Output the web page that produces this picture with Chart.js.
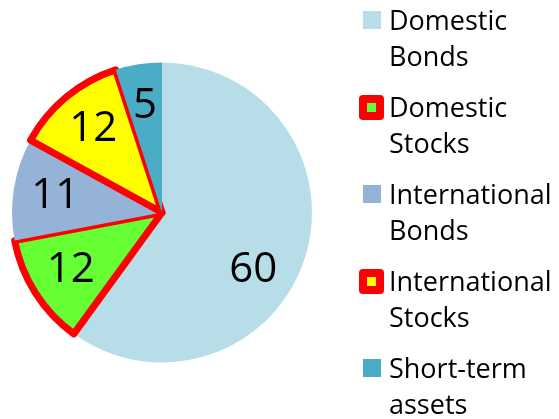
<!DOCTYPE html>
<html>
<head>
<meta charset="utf-8">
<script src="https://cdn.jsdelivr.net/npm/chart.js@4"></script>
<style>
  body { margin: 0; background: #fff; }
  #wrap { position: relative; width: 559px; height: 419px; overflow: hidden; }
  #chartBox { position: absolute; left: 0; top: 0; width: 340px; height: 419px; }
  #legend { position: absolute; left: 0; top: 0; width: 559px; height: 419px; font-family: "Open Sans", sans-serif; font-size: 27px; line-height: 36px; color: #000; }
  .item { position: absolute; left: 389px; white-space: nowrap; }
  .box { position: absolute; left: -26px; top: 9px; width: 18px; height: 18px; }
  .box.hl { left: -30px; top: 6px; width: 25px; height: 25px; border-radius: 4px; background: #ff0000; }
  .box.hl span { position: absolute; left: 8px; top: 8px; width: 9px; height: 9px; }
</style>
</head>
<body>
<div id="wrap">
  <div id="chartBox"><canvas id="pie"></canvas></div>
  <div id="legend"></div>
</div>
<script>
const categories = ['Domestic Bonds', 'Domestic Stocks', 'International Bonds', 'International Stocks', 'Short-term assets']
const legendLines = [['Domestic', 'Bonds'], ['Domestic', 'Stocks'], ['International', 'Bonds'], ['International', 'Stocks'], ['Short-term', 'assets']]
const values = [60, 12, 11, 12, 5]
const colors = ['#b7dee8', '#66ff33', '#95b3d7', '#ffff00', '#4bacc6']
const highlighted = [false, true, false, true, false]

// numbers inside the slices
const sliceLabels = {
  id: 'sliceLabels',
  afterDatasetsDraw(chart) {
    const ctx = chart.ctx
    const arcs = chart.getDatasetMeta(0).data
    ctx.save()
    ctx.font = '42px "Open Sans", sans-serif'
    ctx.fillStyle = '#000'
    ctx.textAlign = 'center'
    ctx.textBaseline = 'middle'
    arcs.forEach((arc, i) => {
      // the big slice gets its label a bit further round, like the original
      const mid = (arc.startAngle + arc.endAngle) / 2 + (values[i] > 50 ? 0.25 : 0)
      const r = arc.outerRadius * 0.72
      ctx.fillText(String(values[i]), arc.x + Math.cos(mid) * r, arc.y + Math.sin(mid) * r)
    })
    ctx.restore()
  }
}

new Chart(document.getElementById('pie'), {
  type: 'pie',
  data: {
    labels: categories,
    datasets: [{
      data: values,
      backgroundColor: colors,
      borderColor: highlighted.map(h => h ? '#ff0000' : 'rgba(0,0,0,0)'),
      borderWidth: highlighted.map(h => h ? 7 : 0),
      borderJoinStyle: 'round'
    }]
  },
  options: {
    responsive: true,
    maintainAspectRatio: false,
    animation: false,
    layout: { padding: { left: 8, right: 24, top: 59, bottom: 53 } },
    plugins: {
      legend: { display: false },
      tooltip: { enabled: false }
    }
  },
  plugins: [sliceLabels]
})

// legend on the right
const legend = document.getElementById('legend')
categories.forEach((c, i) => {
  const item = document.createElement('div')
  item.className = 'item'
  item.style.top = (i * 87 + 2) + 'px'
  const box = document.createElement('div')
  if (highlighted[i]) {
    box.className = 'box hl'
    const inner = document.createElement('span')
    inner.style.background = colors[i]
    box.appendChild(inner)
  } else {
    box.className = 'box'
    box.style.background = colors[i]
  }
  item.appendChild(box)
  legendLines[i].forEach(t => {
    const line = document.createElement('div')
    line.textContent = t
    item.appendChild(line)
  })
  legend.appendChild(item)
})
</script>
</body>
</html>
